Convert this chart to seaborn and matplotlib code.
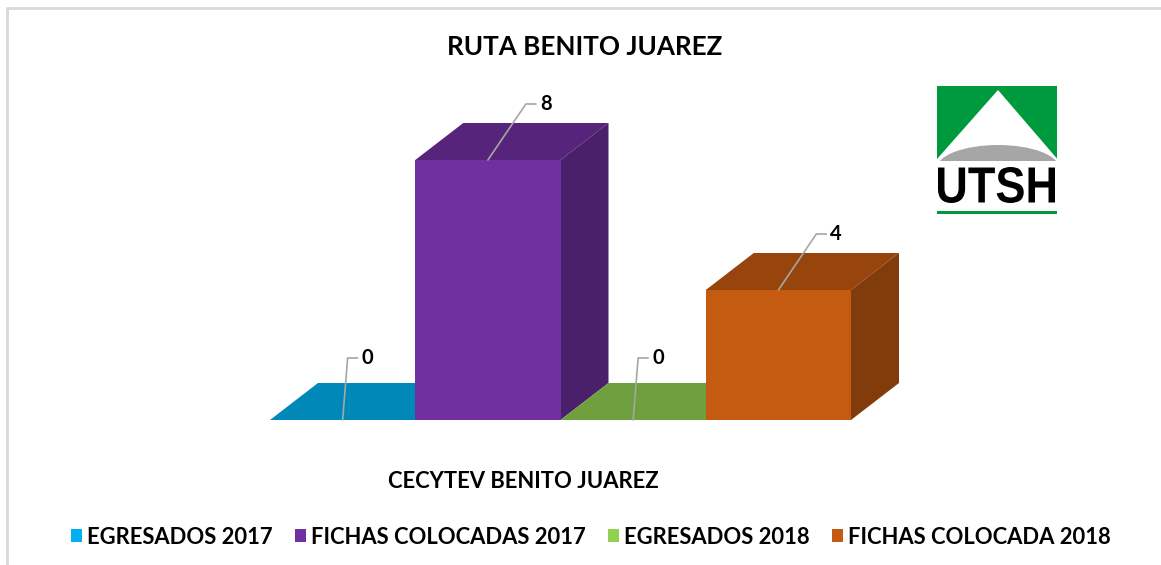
import matplotlib
matplotlib.use("Agg")
import matplotlib.pyplot as plt
import seaborn as sns
from matplotlib.patches import Polygon, Rectangle, Ellipse, Patch, PathPatch
from matplotlib.lines import Line2D
from matplotlib.textpath import TextPath
from matplotlib.font_manager import FontProperties
from matplotlib.transforms import Affine2D

# data
series = ["EGRESADOS 2017", "FICHAS COLOCADAS 2017", "EGRESADOS 2018", "FICHAS COLOCADA 2018"]
values = [0, 8, 0, 4]
colors = ["#00B0F0", "#7030A0", "#92D050", "#C55A11"]
category = "CECYTEV BENITO JUAREZ"
title = "RUTA BENITO JUAREZ"

sns.set_theme(style="white")
plt.rcParams['font.family'] = ['Lato', 'DejaVu Sans']
plt.rcParams['text.color'] = 'black'

W, H = 1161, 565
fig = plt.figure(figsize=(W / 100, H / 100), dpi=100)

# axes placed so that bars span the plot area of the picture
ax = fig.add_axes([270 / W, (H - 420) / H, (851 - 270) / W, (420 - 160) / H])
sns.barplot(x=series, y=values, hue=series, palette=colors, width=1.0,
            saturation=1, legend=False, ax=ax, zorder=3, linewidth=0)
ax.set_xlim(-0.5, 3.5)
ax.set_ylim(0, 8)
ax.axis("off")

# pixel -> data helpers
ppx = (851 - 270) / 4.0
ppy = (420 - 160) / 8.0
dx, dy = 48 / ppx, 37 / ppy


def shade(c, f):
    r, g, b = matplotlib.colors.to_rgb(c)
    return (r * f, g * f, b * f)


for i, p in enumerate(ax.patches):
    x0 = p.get_x()
    x1 = x0 + p.get_width()
    h = p.get_height()
    c = colors[i]
    top = Polygon([(x0, h), (x1, h), (x1 + dx, h + dy), (x0 + dx, h + dy)],
                  closed=True, facecolor=shade(c, 0.77), edgecolor="none",
                  zorder=1, clip_on=False)
    ax.add_patch(top)
    if h > 0:
        side = Polygon([(x1, 0), (x1, h), (x1 + dx, h + dy), (x1 + dx, dy)],
                       closed=True, facecolor=shade(c, 0.66), edgecolor="none",
                       zorder=1, clip_on=False)
        ax.add_patch(side)

    # data label with leader line
    xc = x0 + p.get_width() / 2
    if h > 0:
        kx, ky = 38, 56
    else:
        kx, ky = 5, 62
    xs = [xc, xc + kx / ppx, xc + (kx + 10) / ppx]
    ys = [h, h + ky / ppy, h + ky / ppy]
    ax.add_line(Line2D(xs, ys, color="#A6A6A6", lw=1.2, zorder=4, clip_on=False))
    ax.text(xc + (kx + 14) / ppx, h + ky / ppy, str(values[i]), fontsize=14.5,
            fontweight="bold", ha="left", va="center", color="black",
            zorder=5, clip_on=False)

# title and category label
fig.text(585 / W, 1 - 47 / H, title, ha="center", va="center",
         fontsize=18.7, fontweight="bold", color="black")
fig.text(523 / W, 1 - 482 / H, category, ha="center", va="center",
         fontsize=15.8, fontweight="bold", color="black")

# legend
handles = [Patch(facecolor=c, edgecolor="none") for c in colors]
fig.legend(handles, series, loc="center", bbox_to_anchor=(591 / W, 1 - 537 / H),
           ncol=4, frameon=False, handlelength=0.5, handleheight=0.5,
           handletextpad=0.25, columnspacing=1.0, labelcolor="black",
           prop=FontProperties(family=['Lato', 'DejaVu Sans'], weight='bold', size=15.8))

# border of the chart area
fig.add_artist(Line2D([7 / W, 1], [1 - 8 / H, 1 - 8 / H], color="#D9D9D9", lw=2))
fig.add_artist(Line2D([7 / W, 7 / W], [0, 1 - 8 / H], color="#D9D9D9", lw=2))

# UTSH logo
lg = fig.add_axes([937 / W, (H - 216) / H, 120 / W, 130 / H])
lg.set_xlim(0, 120)
lg.set_ylim(130, 0)
lg.axis("off")
box = Rectangle((0, 0), 120, 77, facecolor="#009A3E", edgecolor="none")
lg.add_patch(box)
tri = Polygon([(61, 4), (-15, 90), (135, 90)], closed=True,
              facecolor="white", edgecolor="none")
lg.add_patch(tri)
tri.set_clip_path(box)
dome = Ellipse((61, 82), 122, 46, facecolor="#A6A6A6", edgecolor="none")
lg.add_patch(dome)
dome.set_clip_path(box)
lg.add_patch(Rectangle((0, 75), 120, 5, facecolor="white", edgecolor="none"))
tp = TextPath((0, 0), "UTSH", size=50,
              prop=FontProperties(family="Liberation Sans", weight="bold"))
ext = tp.get_extents()
tr = (Affine2D().translate(-ext.x0, -ext.y0)
      .scale(117 / ext.width, -36 / ext.height).translate(1, 117))
lg.add_patch(PathPatch(tr.transform_path(tp), facecolor="black", edgecolor="none"))
lg.add_patch(Rectangle((0, 125), 120, 3, facecolor="#009A3E", edgecolor="none"))

fig.savefig("out.png", dpi=100)
